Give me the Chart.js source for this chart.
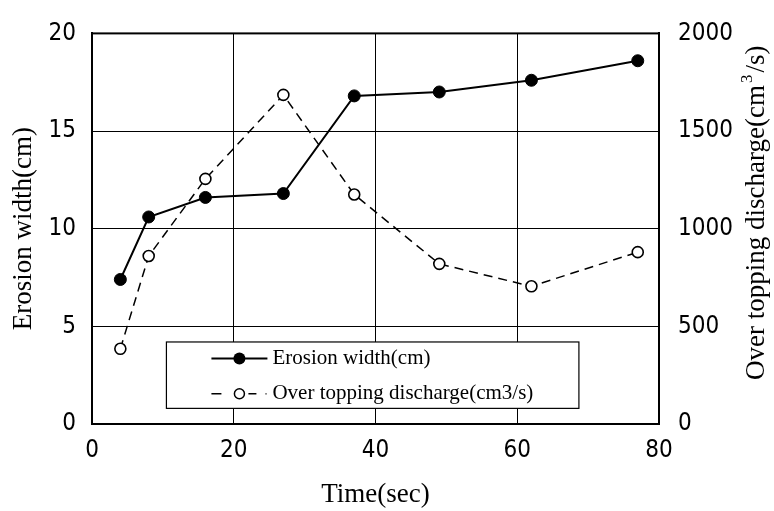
<!DOCTYPE html>
<html>
<head>
<meta charset="utf-8">
<style>
  html, body { margin: 0; padding: 0; background: #fff; }
  #wrap { width: 774px; height: 511px; position: relative; }
</style>
<script src="https://cdn.jsdelivr.net/npm/chart.js@4.4.0/dist/chart.umd.min.js"></script>
</head>
<body>
<div id="wrap"><canvas id="c" width="774" height="511"></canvas></div>
<script>
// ---- data ----
const times = [4, 8, 16, 27, 37, 49, 62, 77];
const erosionWidth = [7.4, 10.6, 11.6, 11.8, 16.8, 17.0, 17.6, 18.6];
const discharge = [385, 860, 1255, 1685, 1175, 820, 705, 880];
const xTickValues = [0, 20, 40, 60, 80];
const leftTickValues = [0, 5, 10, 15, 20];
const rightTickValues = [0, 500, 1000, 1500, 2000];
const seriesNames = ['Erosion width(cm)', 'Over topping discharge(cm3/s)'];
const xTitle = 'Time(sec)';
const leftTitle = 'Erosion width(cm)';
const rightTitleParts = ['Over topping discharge(cm', '3', '/s)'];

const tickFont = { family: "'Liberation Sans Narrow', 'DejaVu Sans Condensed', sans-serif", size: 24 };
const serif = "'Liberation Serif', 'Times New Roman', serif";
const plainLabel = v => String(v);

const decorPlugin = {
  id: 'decor',
  afterDraw(chart) {
    const ctx = chart.ctx;
    const a = chart.chartArea;
    const xs = chart.scales.x, ys = chart.scales.y;
    ctx.save();
    // plot frame
    ctx.strokeStyle = '#000';
    ctx.lineWidth = 2;
    ctx.strokeRect(a.left, a.top, a.right - a.left, a.bottom - a.top);

    // legend box inside plot
    const bx1 = xs.getPixelForValue(10.5), bx2 = xs.getPixelForValue(68.7);
    const by1 = ys.getPixelForValue(4.2), by2 = ys.getPixelForValue(0.8);
    ctx.fillStyle = '#fff';
    ctx.fillRect(bx1, by1, bx2 - bx1, by2 - by1);
    ctx.lineWidth = 1.2;
    ctx.strokeStyle = '#000';
    ctx.strokeRect(bx1, by1, bx2 - bx1, by2 - by1);

    const row1 = by1 + (by2 - by1) * 0.25;
    const row2 = by1 + (by2 - by1) * 0.78;
    const lx1 = bx1 + 45, lx2 = bx1 + 101, mx = bx1 + 73, tx = bx1 + 106;
    // row 1: solid line + filled dot
    ctx.lineWidth = 2;
    ctx.beginPath(); ctx.moveTo(lx1, row1); ctx.lineTo(lx2, row1); ctx.stroke();
    ctx.fillStyle = '#000';
    ctx.beginPath(); ctx.arc(mx, row1, 6, 0, Math.PI * 2); ctx.fill();
    // row 2: dashed + open circle
    ctx.lineWidth = 1.5;
    ctx.beginPath();
    ctx.moveTo(lx1, row2); ctx.lineTo(lx1 + 10, row2);
    ctx.moveTo(mx + 9, row2); ctx.lineTo(mx + 17, row2);
    ctx.stroke();
    ctx.fillRect(lx2 - 2, row2 - 0.5, 1.2, 1.2);
    ctx.beginPath(); ctx.arc(mx, row2, 5, 0, Math.PI * 2);
    ctx.fillStyle = '#fff'; ctx.fill(); ctx.stroke();

    ctx.fillStyle = '#000';
    ctx.font = '21px ' + serif;
    ctx.textBaseline = 'middle';
    ctx.textAlign = 'left';
    ctx.fillText(seriesNames[0], tx, row1);
    ctx.fillText(seriesNames[1], tx, row2);

    // right axis title, reading bottom to top
    const f = 27;
    ctx.font = f + 'px ' + serif;
    const w0 = ctx.measureText(rightTitleParts[0]).width;
    ctx.font = Math.round(f * 0.62) + 'px ' + serif;
    const w1 = ctx.measureText(rightTitleParts[1]).width;
    ctx.font = f + 'px ' + serif;
    const w2 = ctx.measureText(rightTitleParts[2]).width;
    const total = w0 + w1 + 4 + w2;
    const cx = 757, cy = (a.top + a.bottom) / 2 - 16;
    ctx.translate(cx, cy);
    ctx.rotate(-Math.PI / 2);
    ctx.textBaseline = 'middle';
    let px = -total / 2;
    ctx.fillText(rightTitleParts[0], px, 0);
    px += w0 + 2;
    ctx.font = Math.round(f * 0.62) + 'px ' + serif;
    ctx.fillText(rightTitleParts[1], px, -9);
    px += w1 + 2;
    ctx.font = f + 'px ' + serif;
    ctx.fillText(rightTitleParts[2], px, 0);
    ctx.restore();
  }
};

const gridOpts = { color: '#000', lineWidth: 1, drawTicks: false };

new Chart(document.getElementById('c'), {
  type: 'line',
  data: {
    datasets: [
      {
        label: seriesNames[0],
        data: times.map((t, i) => ({ x: t, y: erosionWidth[i] })),
        yAxisID: 'y',
        borderColor: '#000',
        backgroundColor: '#000',
        borderWidth: 2,
        pointRadius: 6,
        pointBackgroundColor: '#000',
        pointBorderColor: '#000',
        pointBorderWidth: 1,
        tension: 0
      },
      {
        label: seriesNames[1],
        data: times.map((t, i) => ({ x: t, y: discharge[i] })),
        yAxisID: 'y2',
        borderColor: '#000',
        backgroundColor: '#fff',
        borderWidth: 1.5,
        borderDash: [9, 6],
        pointRadius: 5.5,
        pointBackgroundColor: '#fff',
        pointBorderColor: '#000',
        pointBorderWidth: 1.6,
        tension: 0
      }
    ]
  },
  options: {
    responsive: false,
    animation: false,
    devicePixelRatio: 1,
    layout: { padding: { top: 23, left: 0, right: 0, bottom: 0 } },
    plugins: { legend: { display: false }, tooltip: { enabled: false } },
    scales: {
      x: {
        type: 'linear', min: 0, max: 80,
        afterBuildTicks: s => { s.ticks = xTickValues.map(v => ({ value: v })); },
        afterFit: s => { s.height = 87; },
        grid: gridOpts,
        border: { display: true, color: '#000', width: 2 },
        ticks: { color: '#000', font: tickFont, padding: 12, maxRotation: 0, callback: plainLabel },
        title: { display: true, text: xTitle, color: '#000', font: { family: serif, size: 27 }, padding: { top: 0, bottom: 0 } }
      },
      y: {
        position: 'left', min: 0, max: 20,
        afterBuildTicks: s => { s.ticks = leftTickValues.map(v => ({ value: v })); },
        afterFit: s => { s.width = 92; },
        grid: gridOpts,
        border: { display: true, color: '#000', width: 2 },
        ticks: { color: '#000', font: tickFont, padding: 16, callback: plainLabel },
        title: { display: true, text: leftTitle, color: '#000', font: { family: serif, size: 27 }, padding: { top: 8, bottom: 0 } }
      },
      y2: {
        position: 'right', min: 0, max: 2000,
        afterBuildTicks: s => { s.ticks = rightTickValues.map(v => ({ value: v })); },
        afterFit: s => { s.width = 115; },
        grid: { display: false, drawTicks: false },
        border: { display: true, color: '#000', width: 2 },
        ticks: { color: '#000', font: tickFont, padding: 19, callback: plainLabel }
      }
    }
  },
  plugins: [decorPlugin]
});
</script>
</body>
</html>
